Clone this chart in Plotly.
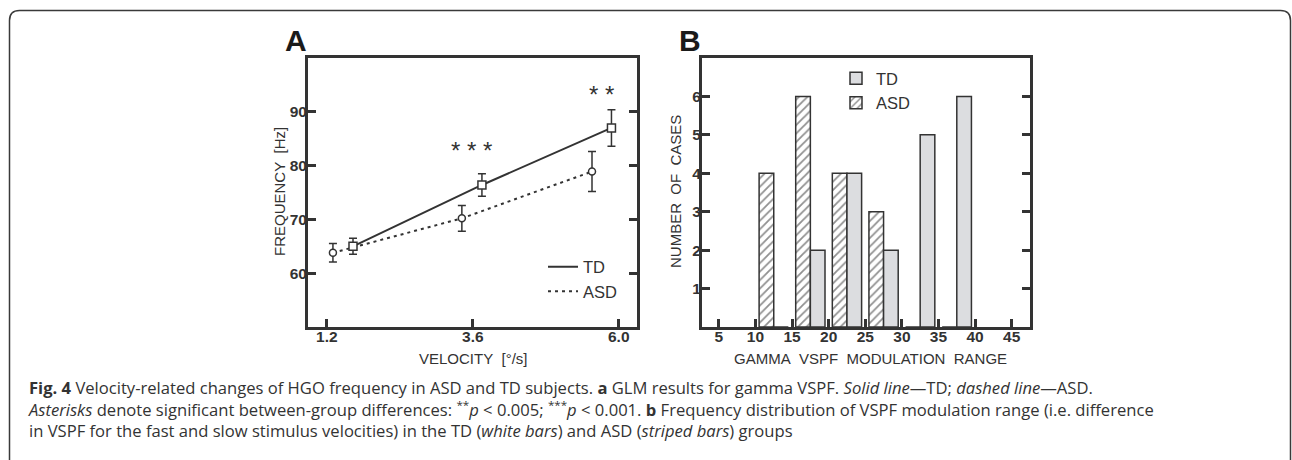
import plotly.graph_objects as go

W, H = 1292, 460

def px(x):
    return x / W

def py(y):
    return (H - y) / H

# ---------------- data ----------------
# Panel A : GLM results (frequency vs velocity)
velocity_ticks = [1.2, 3.6, 6.0]
velocity_labels = ["1.2", "3.6", "6.0"]
td_x = [1.63, 3.75, 5.88]          # plotted (dodged) positions
td_freq = [65.0, 76.4, 87.0]
td_err = [1.5, 2.1, 3.4]
asd_x = [1.30, 3.42, 5.56]
asd_freq = [63.8, 70.2, 78.9]
asd_err = [1.7, 2.4, 3.7]
freq_ticks = [60, 70, 80, 90]
sig_labels = ["* * *", "* *"]
sig_index = [1, 2]
sig_y = [83.7, 94.2]

# Panel B : distribution of modulation range
bin_lo = [10, 15, 20, 25, 30, 35]
td_counts = [0, 2, 4, 2, 5, 6]
asd_counts = [4, 6, 4, 3, 0, 0]
range_ticks = [5, 10, 15, 20, 25, 30, 35, 40, 45]
count_ticks = [1, 2, 3, 4, 5, 6]

# ---------------- style ----------------
DARK = "#333333"
NARROW = "Liberation Sans Narrow, Arial Narrow, Liberation Sans, Arial, sans-serif"
SANS = "Liberation Sans, Arial, sans-serif"
CAP = "Open Sans, Noto Sans, sans-serif"

fig = go.Figure()

# Panel A traces
fig.add_trace(go.Scatter(
    x=asd_x, y=asd_freq, mode="lines+markers",
    line=dict(color=DARK, width=2, dash="3px,4px"),
    marker=dict(symbol="circle", size=7, color="white", line=dict(color=DARK, width=1.5)),
    error_y=dict(type="data", array=asd_err, color=DARK, thickness=1.5, width=4),
    showlegend=False, xaxis="x", yaxis="y"))
fig.add_trace(go.Scatter(
    x=td_x, y=td_freq, mode="lines+markers",
    line=dict(color=DARK, width=2),
    marker=dict(symbol="square", size=8, color="white", line=dict(color=DARK, width=1.5)),
    error_y=dict(type="data", array=td_err, color=DARK, thickness=1.5, width=4),
    showlegend=False, xaxis="x", yaxis="y"))
# legend entries for panel A
fig.add_trace(go.Scatter(x=[None], y=[None], mode="lines", name="TD",
                         line=dict(color=DARK, width=2), legend="legend2",
                         xaxis="x", yaxis="y"))
fig.add_trace(go.Scatter(x=[None], y=[None], mode="lines", name="ASD",
                         line=dict(color=DARK, width=2, dash="3px,4px"), legend="legend2",
                         xaxis="x", yaxis="y"))

# Panel B traces
bin_centers = [b + 2.5 for b in bin_lo]
fig.add_trace(go.Bar(
    x=bin_centers, y=asd_counts, name="ASD", legendrank=2,
    marker=dict(color="white", line=dict(color=DARK, width=1.5),
                pattern=dict(shape="/", fgcolor="#222222", bgcolor="white", size=6, solidity=0.3)),
    xaxis="x2", yaxis="y2"))
fig.add_trace(go.Bar(
    x=bin_centers, y=td_counts, name="TD", legendrank=1,
    marker=dict(color="#dcdde0", line=dict(color=DARK, width=1.5)),
    xaxis="x2", yaxis="y2"))

axis_common = dict(showline=True, linecolor=DARK, linewidth=3, ticks="inside",
                   ticklen=8, tickwidth=3, tickcolor=DARK, showgrid=False, zeroline=False,
                   tickfont=dict(family=NARROW, size=15.5, color=DARK, weight="bold"))

fig.update_layout(
    width=W, height=H,
    margin=dict(l=0, r=0, t=0, b=0),
    paper_bgcolor="white", plot_bgcolor="white",
    barmode="group", bargap=0.2, bargroupgap=0,
    xaxis=dict(domain=[px(308), px(637)], range=[0.89, 6.3], tickvals=velocity_ticks,
               ticktext=velocity_labels, mirror=True, anchor="y", ticklabelstandoff=-7,
               **axis_common),
    yaxis=dict(domain=[py(327), py(58)], range=[50, 100], tickvals=freq_ticks,
               mirror="ticks", anchor="x", ticklabelstandoff=-5, **axis_common),
    xaxis2=dict(domain=[px(702), px(1030)], range=[2.7, 47.5], tickvals=range_ticks,
                mirror=True, anchor="y2", ticklabelstandoff=-7, **axis_common),
    yaxis2=dict(domain=[py(327), py(58)], range=[0, 7], tickvals=count_ticks,
                mirror="ticks", anchor="x2", ticklabelstandoff=-5, **axis_common),
    legend=dict(x=px(836), y=py(90.5), xanchor="left", yanchor="middle",
                bgcolor="rgba(0,0,0,0)", font=dict(family=NARROW, size=16.5, color=DARK),
                tracegroupgap=0),
    legend2=dict(x=px(543), y=py(279), xanchor="left", yanchor="middle",
                 bgcolor="rgba(0,0,0,0)", font=dict(family=NARROW, size=16.5, color=DARK)),
)

ann = []
# significance asterisks
for lab, i, yv in zip(sig_labels, sig_index, sig_y):
    ann.append(dict(x=(td_x[i] + asd_x[i]) / 2, y=yv, xref="x", yref="y", text=lab,
                    showarrow=False, yshift=-5, xanchor="center", yanchor="middle",
                    font=dict(family=SANS, size=24, color=DARK)))

def label(x, y, text, size, angle=0, color=DARK):
    return dict(x=px(x), y=py(y), xref="paper", yref="paper", text=text,
                textangle=angle, showarrow=False, xanchor="center", yanchor="middle",
                font=dict(family=SANS, size=size, color=color))

# panel letters
ann.append(label(296, 40, "<b>A</b>", 30, color="#1a1a1a"))
ann.append(label(690, 40, "<b>B</b>", 30, color="#1a1a1a"))
# axis titles
ann.append(label(279, 192, "FREQUENCY\u00a0 [Hz]", 15, angle=-90))
ann.append(label(473, 358, "VELOCITY\u00a0 [°/s]", 15))
ann.append(label(675, 192, "NUMBER\u00a0 OF\u00a0 CASES", 15, angle=-90))
ann.append(label(870, 358, "GAMMA\u00a0 VSPF\u00a0 MODULATION\u00a0 RANGE", 15))
# caption (one multi-line block)
cap_lines = [
    "<b>Fig. 4</b> Velocity-related changes of HGO frequency in ASD and TD subjects. <b>a</b> GLM results for gamma VSPF. <i>Solid line</i>—TD; <i>dashed line</i>—ASD.",
    "<i>Asterisks</i> denote significant between-group differences: <sup>**</sup><i>p</i> &lt; 0.005; <sup>***</sup><i>p</i> &lt; 0.001. <b>b</b> Frequency distribution of VSPF modulation range (i.e. difference",
    "in VSPF for the fast and slow stimulus velocities) in the TD (<i>white bars</i>) and ASD (<i>striped bars</i>) groups",
]
ann.append(dict(x=px(26), y=py(409), xref="paper", yref="paper", text="<br>".join(cap_lines),
                xanchor="left", yanchor="middle", align="left", showarrow=False,
                font=dict(family=CAP, size=16.6, color="#333333")))
fig.update_layout(annotations=ann)

# rounded outer frame
x0, x1 = px(9.5), px(1290.5)
yt, yb = py(10.5), py(480)
rx, ry = 10 / W, 10 / H
path = (f"M {x0},{yb} L {x0},{yt - ry} Q {x0},{yt} {x0 + rx},{yt} "
        f"L {x1 - rx},{yt} Q {x1},{yt} {x1},{yt - ry} L {x1},{yb}")
fig.add_shape(type="path", path=path, xref="paper", yref="paper",
              line=dict(color="#3a3a3a", width=1.5))

fig.write_html("out.html", config={"displayModeBar": False},
               post_script="document.body.style.margin='0';document.body.style.overflow='hidden';")
